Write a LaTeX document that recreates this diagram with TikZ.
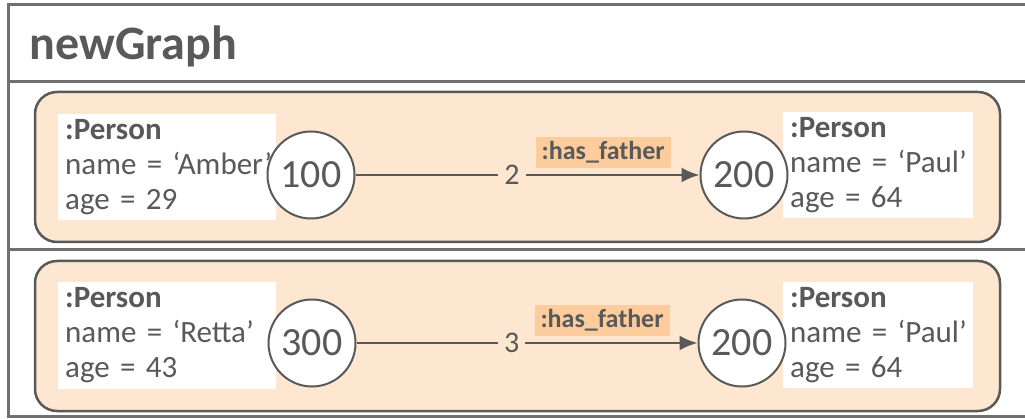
\documentclass[tikz,border=0pt]{standalone}
\usepackage{fontspec}
\setmainfont{Carlito}
\usetikzlibrary{arrows.meta}
\definecolor{ink}{HTML}{595959}
\definecolor{framegray}{HTML}{707070}
\definecolor{rowfill}{HTML}{FDE7D0}
\definecolor{relfill}{HTML}{FCCC9C}
\newcommand{\person}[2]{\textbf{:Person}\\\mbox{name = ‘#1’}\\\mbox{age = #2}}

\begin{document}
\begin{tikzpicture}[x=1pt,y=-1pt,color=ink,
	row/.style={draw=ink,line width=2.5pt,fill=rowfill,rounded corners=22pt,minimum width=965pt,minimum height=150pt},
	vertex/.style={circle,draw=ink,line width=2pt,fill=white,minimum size=87pt,inner sep=0pt,font=\fontsize{40}{44}\selectfont},
	props/.style={fill=white,align=left,anchor=west,inner xsep=7pt,minimum height=106pt,font=\fontsize{31}{35}\selectfont},
	rel/.style={fill=relfill,inner xsep=6pt,inner ysep=0pt,minimum height=31pt,font=\bfseries\fontsize{26}{30}\selectfont},
	weight/.style={fill=rowfill,inner xsep=6pt,font=\fontsize{30}{34}\selectfont},
	edge/.style={draw=ink,line width=2.5pt,-{Latex[length=18pt,width=15pt]}}]
	\useasboundingbox (0,0) rectangle (1025,419);
	% table frame
	\draw[framegray,line width=3pt] (1025,5) -- (8,5) -- (8,416) -- (1025,416);
	\draw[framegray,line width=3pt] (8,82) -- (1025,82);
	\draw[framegray,line width=3pt] (8,250) -- (1025,250);
	\node (title) [anchor=base west,font=\bfseries\fontsize{48}{52}\selectfont] at (26,60) {newGraph};
	% first row
	\node (row1) [row] at (517.5,167) {};
	\node (amber) [props,text width=204pt] at (58,167) {\person{Amber}{29}};
	\node (paul1) [props,text width=176pt] at (783,165.5) {\person{Paul}{64}};
	\node (v100) [vertex] at (311,175) {100};
	\node (v200a) [vertex] at (744,175) {200};
	\draw[edge] (v100) -- node[weight,pos=.455] (w2) {2} node[rel,pos=.72,above=6pt] (r1) {:has\_father} (v200a);
	% second row
	\node (row2) [row] at (517.5,336) {};
	\node (retta) [props,text width=204pt] at (58,335.5) {\person{Retta}{43}};
	\node (paul2) [props,text width=176pt] at (783,335) {\person{Paul}{64}};
	\node (v300) [vertex] at (312,343) {300};
	\node (v200b) [vertex] at (742,343) {200};
	\draw[edge] (v300) -- node[weight,pos=.455] (w3) {3} node[rel,pos=.72,above=6pt] (r2) {:has\_father} (v200b);
\end{tikzpicture}
\end{document}
